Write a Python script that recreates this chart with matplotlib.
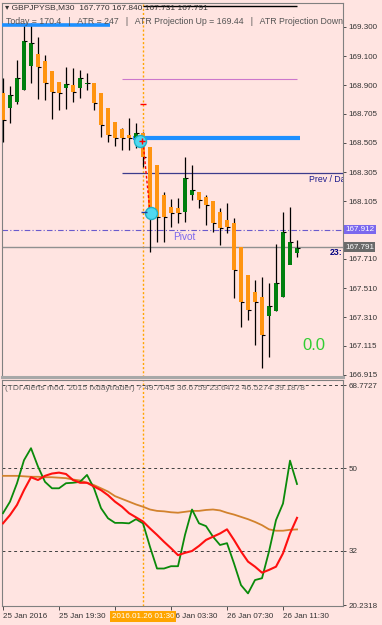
import matplotlib
matplotlib.use("Agg")
import matplotlib.pyplot as plt
import matplotlib.transforms as mtransforms

plt.rcParams['font.family'] = ['Liberation Sans', 'DejaVu Sans']

# GBPJPYSB M30 candles, one per half hour from 25 Jan 15:30
opens = [168.848, 168.745, 168.786, 168.868, 169.033, 169.115, 169.067, 168.998, 168.923, 168.882,
         168.902, 168.882, 168.909, 168.916, 168.848, 168.745, 168.649, 168.601, 168.560, 168.539,
         168.573, 168.478, 168.354, 168.149, 168.066, 168.059, 168.032, 168.149, 168.169, 168.135,
         168.107, 168.032, 167.977, 167.957, 167.792, 167.600, 167.484, 167.449, 167.319, 167.353,
         167.449, 167.669, 167.751]
closes = [168.663, 168.834, 168.950, 169.204, 169.190, 169.026, 168.916, 168.854, 168.848, 168.909,
          168.854, 168.950, 168.916, 168.779, 168.628, 168.560, 168.539, 168.539, 168.539, 168.573,
          168.409, 168.046, 167.998, 167.998, 168.025, 168.025, 168.265, 168.183, 168.114, 168.080,
          167.957, 167.922, 167.929, 167.634, 167.415, 167.360, 167.415, 167.189, 167.388, 167.545,
          167.895, 167.826, 167.785]
highs = [168.950, 168.896, 169.074, 169.327, 169.327, 169.231, 169.108, 168.998, 168.923, 169.026,
         169.019, 169.005, 168.985, 168.916, 168.848, 168.745, 168.649, 168.608, 168.676, 168.642,
         168.580, 168.478, 168.354, 168.169, 168.121, 168.128, 168.409, 168.354, 168.169, 168.149,
         168.107, 168.059, 168.094, 167.991, 167.792, 167.600, 167.566, 167.586, 167.545, 167.813,
         168.032, 168.066, 167.840]
lows = [168.512, 168.642, 168.770, 168.868, 168.916, 168.807, 168.800, 168.669, 168.731, 168.738,
        168.786, 168.813, 168.868, 168.731, 168.546, 168.512, 168.484, 168.457, 168.457, 168.471,
        168.340, 167.758, 167.826, 167.826, 167.929, 167.957, 167.963, 168.114, 168.059, 167.943,
        167.895, 167.806, 167.888, 167.443, 167.244, 167.292, 167.120, 166.963, 167.038, 167.353,
        167.449, 167.724, 167.724]

# TDI sub-window
rsi_green = [40.2, 42.7, 46.7, 51.7, 54.3, 50.3, 47.0, 45.6, 45.6, 46.7,
             46.8, 47.0, 48.5, 45.6, 41.3, 39.1, 38.1, 38.1, 38.0, 38.9,
             38.0, 32.9, 28.2, 28.2, 28.7, 28.7, 35.5, 41.0, 38.0, 37.4,
             35.1, 33.3, 33.7, 29.3, 24.6, 22.8, 25.7, 26.1, 31.9, 38.7,
             42.3, 51.6, 46.53]
signal_red = [38.0, 39.8, 42.0, 45.2, 48.0, 47.4, 48.3, 48.8, 49.0, 48.7,
              47.4, 46.8, 46.8, 46.0, 45.2, 44.1, 42.7, 41.6, 40.2, 39.3,
              38.4, 36.9, 35.5, 34.0, 32.6, 31.1, 31.6, 32.0, 33.1, 34.4,
              35.1, 35.8, 36.7, 34.4, 31.9, 29.7, 28.6, 27.3, 27.9, 28.6,
              31.5, 35.8, 39.19]
base_line = [48.3, 48.3, 48.3, 48.2, 48.1, 48.1, 48.0, 48.0, 47.9, 47.8,
             47.5, 47.3, 46.8, 46.3, 45.6, 44.9, 43.9, 43.3, 42.7, 42.1,
             41.6, 41.0, 40.7, 40.6, 40.4, 40.3, 40.5, 40.7, 40.7, 40.9,
             41.0, 40.8, 40.3, 39.9, 39.4, 38.9, 38.3, 37.6, 36.7, 36.4,
             36.4, 36.6, 36.68]

price_ticks = [169.300, 169.100, 168.900, 168.705, 168.505, 168.305, 168.105,
               167.710, 167.510, 167.310, 167.115, 166.915]
tdi_levels = [68, 50, 32]
tdi_ticks = [68, 50, 32, 20.2318]
tdi_tick_labels = ["68.7727", "50", "32", "20.2318"]
# the 25 Jan 23:30 label sits under the cursor date box in the terminal
time_ticks = [0, 8, 16, 24, 32, 40]
time_labels = ["25 Jan 2016", "25 Jan 19:30", "", "26 Jan 03:30",
               "26 Jan 07:30", "26 Jan 11:30"]
cursor_bar = 20
cursor_label = "2016.01.26 01:30"

today_level = 169.314
atr_up_level = 169.444
orchid_level = 168.944
blue_level = 168.539
prev_day_level = 168.300
pivot_level = 167.912
bid_level = 167.791

arrow_bars = [19.6, 21.2]
arrow_prices = [168.518, 168.025]

BG = "#FFE4E1"
GRID = "#808080"
BULL = "#007F0E"
BEAR = "#FF9410"
FS = 5.8

W, H = 382, 625
fig = plt.figure(figsize=(W / 100, H / 100), dpi=100, facecolor=BG)


def px_axes(left, top, right, bottom):
    return fig.add_axes([left / W, 1 - bottom / H, (right - left) / W, (bottom - top) / H])


ax = px_axes(2, 3, 343, 377)
ax2 = px_axes(2, 380, 343, 606)
xlim = (-0.143, 48.57)

for a in (ax, ax2):
    a.set_facecolor(BG)
    a.set_xlim(*xlim)
    for s in a.spines.values():
        s.set_color(GRID)
        s.set_linewidth(0.8)
    a.yaxis.tick_right()
    a.tick_params(axis="y", direction="out", length=2, width=0.6, pad=2,
                  labelsize=FS, colors="#333333")
    a.axvline(cursor_bar, color="#FFA500", lw=1.0, ls=(0, (1.5, 1.5)), zorder=1)
ax.spines["bottom"].set_linewidth(2.2)
ax.spines["bottom"].set_color("#A8A8A8")

# ---- main price panel
ax.set_ylim(166.901, 169.4645)
ax.set_xticks([])
ax.set_yticks(price_ticks)
ax.set_yticklabels([f"{p:.3f}" for p in price_ticks])

ax.hlines(today_level, xlim[0], 15.3, color="#1E90FF", lw=2.6, zorder=4)
ax.hlines(atr_up_level, 20, 42, color="black", lw=1.0, zorder=2)
ax.hlines(orchid_level, 17, 42, color="#CC77CC", lw=0.8, zorder=2)
ax.hlines(blue_level, 18.6, 42.4, color="#1E90FF", lw=3.0, zorder=2)
ax.hlines(prev_day_level, 17, xlim[1], color="#3C3C8C", lw=0.9, zorder=2)
ax.axhline(pivot_level, color="#6A5ACD", lw=0.8, ls=(0, (5, 2, 1, 2)), zorder=2)
ax.axhline(bid_level, color="#909090", lw=1.0, zorder=2)

for i, (o, c, h, l) in enumerate(zip(opens, closes, highs, lows)):
    col = BULL if c >= o else BEAR
    ax.vlines(i, l, h, color="black", lw=0.9, zorder=3)
    body = max(abs(c - o), 0.006)
    ax.bar(i, body, bottom=min(o, c), width=0.65, color=col, lw=0, zorder=3.5)
    ax.hlines(c, i, i + 0.45, color="black", lw=0.8, zorder=3.6)

ax.plot([cursor_bar, cursor_bar + 1], [168.512, 168.032], color="red", lw=1.0,
        ls=(0, (2, 1.5)), zorder=5)
ax.scatter(arrow_bars, arrow_prices, s=75, color="#4FD8F0", edgecolor="#20B2C8",
           lw=1.0, zorder=6)
ax.plot([cursor_bar - 0.2], [168.52], marker="+", color="red", ms=4, mew=1, zorder=7)
ax.plot([cursor_bar], [168.772], marker="_", color="red", ms=4, mew=1, zorder=7)
ax.plot([cursor_bar + 0.1], [168.03], marker="_", color="#1E3C9C", ms=4, mew=1, zorder=7)


def axes_pos(px, py, top, bottom):
    return (px - 2) / 341, 1 - (py - top) / (bottom - top)


x, y = axes_pos(5, 8, 3, 377)
ax.text(x, y, "\u25be GBPJPYSB,M30  167.770 167.840 167.731 167.791", transform=ax.transAxes,
        fontsize=6.0, color="#333333", va="center", ha="left", clip_on=True, zorder=8)
x, y = axes_pos(6, 21, 3, 377)
ax.text(x, y, "Today = 170.4   |   ATR = 247   |   ATR Projection Up = 169.44   |   "
              "ATR Projection Down",
        transform=ax.transAxes, fontsize=6.3, color="#555555", va="center", ha="left",
        clip_on=True, zorder=8)

# labels cut off by the price scale, as in the terminal
ax.text(43.7, prev_day_level - 0.045, "Prev / Da", color="#1A1A8C", fontsize=6.3,
        va="center", ha="left", clip_on=True, zorder=8)
ax.text(24.3, pivot_level - 0.05, "Pivot", color="#7B68EE", fontsize=7.2, va="center",
        ha="left", zorder=8)
ax.text(46.7, bid_level - 0.04, "23:", color="#000080", fontsize=6.3, fontweight="bold",
        va="center", ha="left", clip_on=True, zorder=8)
ax.text(42.8, 167.12, "0.0", color="#32CD32", fontsize=12, va="center", ha="left", zorder=8)

trans = mtransforms.blended_transform_factory(ax.transAxes, ax.transData)
ax.text(1.006, pivot_level, f"{pivot_level:.3f}", transform=trans, fontsize=FS, color="white",
        va="center", ha="left", zorder=9,
        bbox=dict(boxstyle="square,pad=0.18", fc="#7B68EE", ec="none"))
ax.text(1.006, bid_level, f"{bid_level:.3f}", transform=trans, fontsize=FS, color="white",
        va="center", ha="left", zorder=9,
        bbox=dict(boxstyle="square,pad=0.18", fc="#6A6A6A", ec="none"))

# ---- TDI panel
ax2.set_ylim(20.07, 69.09)
ax2.set_yticks(tdi_ticks)
ax2.set_yticklabels(tdi_tick_labels)
for lv in tdi_levels:
    ax2.axhline(lv, color="#404040", lw=0.7, ls=(0, (3, 3)), zorder=1)

bars = list(range(len(rsi_green)))
ax2.plot(bars, base_line, color="#D2822D", lw=1.3, zorder=3)
ax2.plot(bars, rsi_green, color="#0A8A0A", lw=1.3, zorder=4)
ax2.plot(bars, signal_red, color="#FF1010", lw=1.5, zorder=5)

x, y = axes_pos(5, 388, 380, 606)
ax2.text(x, y, "(TDI Alerts mod. 2015 fxdaytrader) ? 49.7045 36.6759 23.6472 46.5274 39.1878",
         transform=ax2.transAxes, fontsize=6.0, color="#666666", va="center", ha="left",
         zorder=8)

ax2.set_xticks(time_ticks)
ax2.set_xticklabels(time_labels, ha="left", fontsize=FS, color="#333333")
ax2.tick_params(axis="x", direction="out", length=3, width=0.6, pad=2, colors="#333333")
ax2.text(cursor_bar, -0.045, cursor_label, transform=mtransforms.blended_transform_factory(
    ax2.transData, ax2.transAxes), fontsize=FS, color="white", ha="center", va="center",
    zorder=10, clip_on=False,
    bbox=dict(boxstyle="square,pad=0.25", fc="#FFA500", ec="none"))

fig.savefig("out.png", dpi=100, facecolor=BG)
